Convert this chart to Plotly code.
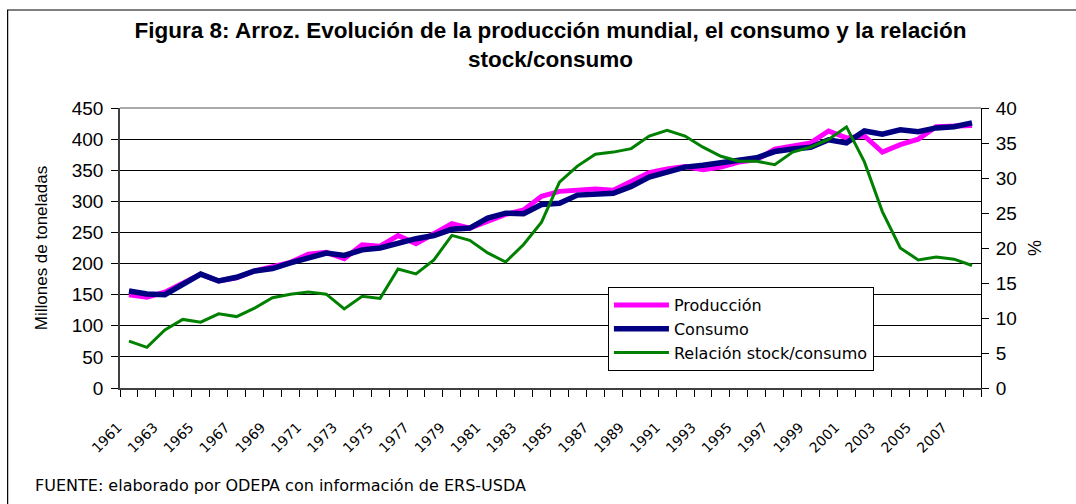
import plotly.graph_objects as go

years = [1961, 1962, 1963, 1964, 1965, 1966, 1967, 1968, 1969, 1970,
         1971, 1972, 1973, 1974, 1975, 1976, 1977, 1978, 1979, 1980,
         1981, 1982, 1983, 1984, 1985, 1986, 1987, 1988, 1989, 1990,
         1991, 1992, 1993, 1994, 1995, 1996, 1997, 1998, 1999, 2000,
         2001, 2002, 2003, 2004, 2005, 2006, 2007, 2008]

produccion = [150, 146, 154, 169, 183, 172, 177, 188, 194, 202,
              215, 218, 208, 230, 228, 245, 232, 248, 264, 257,
              268, 279, 286, 308, 316, 319, 320, 318, 331, 346,
              352, 356, 351, 355, 363, 367, 384, 390, 394, 413,
              402, 405, 379, 391, 400, 420, 421, 422]

consumo = [156, 151, 150, 166, 183, 172, 178, 188, 192, 201,
           209, 217, 213, 222, 225, 233, 240, 245, 255, 257,
           273, 281, 280, 295, 297, 310, 311, 313, 324, 339,
           347, 355, 358, 361, 366, 370, 380, 384, 387, 399,
           394, 413, 408, 415, 412, 418, 420, 426]

relacion = [6.7, 5.8, 8.3, 9.8, 9.4, 10.6, 10.2, 11.4, 12.9, 13.4,
            13.7, 13.4, 11.3, 13.1, 12.8, 17.0, 16.3, 18.3, 21.8, 21.1,
            19.3, 18.0, 20.5, 23.7, 29.4, 31.7, 33.4, 33.7, 34.2, 36.0,
            36.8, 36.0, 34.4, 33.1, 32.4, 32.4, 31.9, 33.7, 34.4, 35.5,
            37.3, 32.3, 25.2, 20.0, 18.3, 18.7, 18.4, 17.5]

label_years = [1961, 1963, 1965, 1967, 1969, 1971, 1973, 1975, 1977, 1979,
               1981, 1983, 1985, 1987, 1989, 1991, 1993, 1995, 1997, 1999,
               2001, 2003, 2005, 2007]

W, H = 1076, 504
ML, MR, MT, MB = 119.5, 94.5, 108, 116
PW, PH = W - ML - MR, H - MT - MB


def px_x(p):
    return (p - ML) / PW


def px_y(p):
    return (H - MB - p) / PH


FONT = "Liberation Sans, Arial, sans-serif"
WIDE = "DejaVu Sans, sans-serif"
xr = [years[0] - 0.5, years[-1] + 0.5]

fig = go.Figure()
fig.add_trace(go.Scatter(x=years, y=produccion, name="Producción", mode="lines",
                         line=dict(color="#FF00FF", width=5)))
fig.add_trace(go.Scatter(x=years, y=consumo, name="Consumo", mode="lines",
                         line=dict(color="#000080", width=5.5)))
fig.add_trace(go.Scatter(x=years, y=relacion, name="Relación stock/consumo", mode="lines",
                         line=dict(color="#008000", width=3), yaxis="y2"))

fig.update_layout(
    width=W, height=H,
    margin=dict(l=ML, r=MR, t=MT, b=MB),
    paper_bgcolor="white", plot_bgcolor="white",
    font=dict(family=FONT, color="black"),
    title=dict(text="<b>Figura 8: Arroz. Evolución de la producción mundial, el consumo y la relación<br>stock/consumo</b>",
               x=px_x((ML + W - MR) / 2), xref="paper", xanchor="center",
               y=1 - 38 / H, yref="container", yanchor="middle",
               font=dict(family=FONT, size=22.5, color="black")),
    xaxis=dict(range=xr, tickmode="array", tickvals=label_years,
               ticktext=[str(v) for v in label_years], tickangle=-45,
               ticks="", showgrid=False, showline=True, linecolor="#404040", linewidth=1.5,
               tickfont=dict(family=WIDE, size=14, color="black"),
               ticklabelstandoff=24, ticklabelshift=-11,
               minor=dict(ticks="outside", ticklen=7, tick0=xr[0], dtick=1,
                          tickcolor="black", tickwidth=1, showgrid=False),
               zeroline=False),
    xaxis2=dict(overlaying="x", anchor="y", side="bottom", range=xr, tickmode="linear",
                tick0=xr[0], dtick=1, ticks="inside", ticklen=6, tickcolor="black",
                showticklabels=False, showgrid=False, showline=False, zeroline=False),
    yaxis=dict(range=[0, 450], dtick=50, ticks="outside", ticklen=7, tickcolor="black",
               showline=True, linecolor="#404040", linewidth=1.5,
               showgrid=True, gridcolor="black", gridwidth=1, zeroline=False,
               tickfont=dict(family=FONT, size=19, color="black"),
               ticklabelstandoff=4,
               title=dict(text="Millones de toneladas", font=dict(family=FONT, size=17, color="black"),
                          standoff=20)),
    yaxis2=dict(range=[0, 40], dtick=5, overlaying="y", side="right", anchor="x",
                ticks="outside", ticklen=7, tickcolor="black",
                showline=True, linecolor="black", linewidth=1,
                showgrid=False, zeroline=False,
                tickfont=dict(family=FONT, size=19, color="black"),
                ticklabelstandoff=3,
                title=dict(text="%", font=dict(family=FONT, size=18, color="black"), standoff=12)),
    yaxis3=dict(range=[0, 450], dtick=50, overlaying="y", side="left", anchor="x",
                ticks="inside", ticklen=6, tickcolor="black", showticklabels=False,
                showgrid=False, showline=False, zeroline=False),
    yaxis4=dict(range=[0, 40], dtick=5, overlaying="y", side="right", anchor="x",
                ticks="inside", ticklen=6, tickcolor="black", showticklabels=False,
                showgrid=False, showline=False, zeroline=False),
    legend=dict(x=px_x(608), y=px_y(287), xanchor="left", yanchor="top",
                bgcolor="white", bordercolor="black", borderwidth=1,
                font=dict(family=WIDE, size=16, color="black"),
                itemwidth=55, tracegroupgap=0),
    showlegend=True,
)

# top border of plot area (gray) and outer frame
fig.add_shape(type="line", xref="paper", yref="paper", x0=0, x1=1, y0=1, y1=1,
              line=dict(color="#8c8c8c", width=1.5), layer="above")
fig.add_shape(type="rect", xref="paper", yref="paper",
              x0=px_x(7), x1=px_x(W + 20), y0=px_y(H + 10), y1=px_y(10),
              line=dict(color="black", width=1.2), fillcolor="rgba(0,0,0,0)", layer="below")

fig.add_annotation(text="FUENTE: elaborado por ODEPA con información de ERS-USDA",
                   xref="paper", yref="paper", x=px_x(32), y=px_y(485),
                   xanchor="left", yanchor="middle", showarrow=False,
                   font=dict(family=WIDE, size=16, color="black"))

fig.write_html("out.html", config={"displayModeBar": False},
               post_script="document.body.style.margin='0';")
